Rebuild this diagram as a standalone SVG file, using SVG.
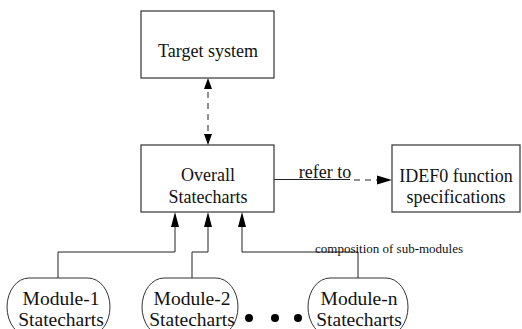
<svg xmlns="http://www.w3.org/2000/svg" width="522" height="329" viewBox="0 0 522 329">
<defs>
<style>
.box{fill:#fff;stroke:#333;stroke-width:1.2}
.mod{fill:#fff;stroke:#333;stroke-width:1}
.t{font-family:"Liberation Serif","Times New Roman",serif;font-size:18px;fill:#111;text-anchor:middle}
.m{font-family:"Liberation Serif","Times New Roman",serif;font-size:19.5px;fill:#111;text-anchor:middle}
.s{font-family:"Liberation Serif","Times New Roman",serif;font-size:13px;fill:#111}
.ln{fill:none;stroke:#222;stroke-width:1}
.dash{fill:none;stroke:#222;stroke-width:1;stroke-dasharray:6 5}
.head{fill:#000}
</style>
</defs>

<g id="connectors">
<line class="dash" x1="208" y1="92" x2="208" y2="134"/>
<path class="head" d="M208,78 L204,89 L212,89 Z"/>
<path class="head" d="M208,145 L204,134 L212,134 Z"/>
<line class="ln" x1="274" y1="179.5" x2="350" y2="179.5"/>
<line class="dash" x1="354" y1="180" x2="380" y2="180"/>
<path class="head" d="M392,180 L377,175.5 L377,184.5 Z"/>
<polyline class="ln" points="58,278 58,252 175,252 175,226"/>
<path class="head" d="M175,212 L171,227 L179,227 Z"/>
<polyline class="ln" points="192,278 192,252 208,252 208,226" stroke="#777"/>
<path class="head" d="M208,212 L204,227 L212,227 Z"/>
<polyline class="ln" points="358,278 358,252 242,252 242,226"/>
<path class="head" d="M242,212 L238,227 L246,227 Z"/>
</g>

<g id="target">
<rect class="box" x="141" y="11" width="133" height="67"/>
<text class="t" x="208" y="57">Target system</text>
</g>

<g id="overall">
<rect class="box" x="141" y="145" width="133" height="67"/>
<text class="t" x="208" y="181">Overall</text>
<text class="t" x="208" y="203">Statecharts</text>
</g>

<g id="idef0">
<rect class="box" x="392" y="145" width="128" height="67"/>
<text class="t" x="456" y="182">IDEF0 function</text>
<text class="t" x="456" y="203">specifications</text>
</g>

<g id="labels">
<text class="t" x="325" y="178">refer to</text>
<text class="s" x="315" y="253">composition of sub-modules</text>
</g>

<g id="module1">
<rect class="mod" x="7" y="278" width="103" height="58" rx="22" ry="29"/>
<text class="m" x="61" y="305">Module-1</text>
<text class="m" x="61" y="326">Statecharts</text>
</g>

<g id="module2">
<rect class="mod" x="142" y="278" width="96" height="58" rx="22" ry="29"/>
<text class="m" x="192" y="305">Module-2</text>
<text class="m" x="192" y="326">Statecharts</text>
</g>

<g id="dots">
<circle cx="249" cy="318" r="4" fill="#000"/>
<circle cx="275" cy="318" r="4" fill="#000"/>
<circle cx="298" cy="318" r="4" fill="#000"/>
</g>

<g id="modulen">
<rect class="mod" x="308" y="278" width="100" height="58" rx="22" ry="29"/>
<text class="m" x="359" y="305">Module-n</text>
<text class="m" x="359" y="326">Statecharts</text>
</g>
</svg>
